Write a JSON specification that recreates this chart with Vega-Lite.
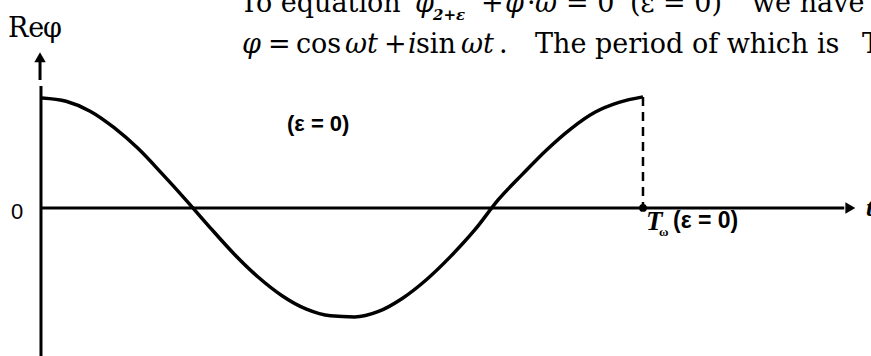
{
  "$schema": "https://vega.github.io/schema/vega-lite/v6.json",
  "autosize": {"type": "none"},
  "width": 871,
  "height": 356,
  "padding": 0,
  "background": "white",
  "config": {"view": {"stroke": null}},
  "datasets": {
    "curve": [
      {"t": 0.00, "v": 1.00}, {"t": 0.04, "v": 0.97}, {"t": 0.08, "v": 0.88},
      {"t": 0.12, "v": 0.73}, {"t": 0.16, "v": 0.54}, {"t": 0.20, "v": 0.31},
      {"t": 0.24, "v": 0.07}, {"t": 0.28, "v": -0.18}, {"t": 0.32, "v": -0.42},
      {"t": 0.36, "v": -0.63}, {"t": 0.40, "v": -0.80}, {"t": 0.44, "v": -0.92},
      {"t": 0.48, "v": -0.98}, {"t": 0.52, "v": -0.99}, {"t": 0.56, "v": -0.94},
      {"t": 0.60, "v": -0.82}, {"t": 0.64, "v": -0.65}, {"t": 0.68, "v": -0.44},
      {"t": 0.72, "v": -0.20}, {"t": 0.76, "v": 0.08}, {"t": 0.80, "v": 0.31},
      {"t": 0.84, "v": 0.53}, {"t": 0.88, "v": 0.72}, {"t": 0.92, "v": 0.87},
      {"t": 0.96, "v": 0.96}, {"t": 1.00, "v": 1.01}
    ],
    "axes": [
      {"t": -0.0017, "t2": 1.335, "v": 0, "v2": 0},
      {"t": -0.0017, "t2": -0.0017, "v": 1.109, "v2": -1.36},
      {"t": -0.0033, "t2": -0.0033, "v": 1.1636, "v2": 1.33}
    ],
    "heads": [
      {"t": 1.345, "v": 0, "shape": "triangle-right"},
      {"t": -0.0033, "v": 1.37, "shape": "triangle-up"}
    ],
    "period": [{"t": 1.0, "t2": 1.0, "v": 1.01, "v2": 0.03}],
    "periodDot": [{"t": 1.0, "v": 0}],
    "serifText": [
      {"t": 0.3295, "v": 1.7818, "label": "To equation"},
      {"t": 0.7304, "v": 1.7818, "label": "+"},
      {"t": 0.8070, "v": 1.7818, "label": "·"},
      {"t": 0.8719, "v": 1.7818, "label": "= 0"},
      {"t": 0.9784, "v": 1.7818, "label": "(ε = 0)"},
      {"t": 1.1814, "v": 1.7818, "label": "we have"},
      {"t": 0.3760, "v": 1.4091, "label": "="},
      {"t": 0.4226, "v": 1.4091, "label": "cos"},
      {"t": 0.5691, "v": 1.4091, "label": "+"},
      {"t": 0.6223, "v": 1.4091, "label": "sin"},
      {"t": 0.7604, "v": 1.4091, "label": "."},
      {"t": 0.8203, "v": 1.4091, "label": "The period of which is"},
      {"t": 1.3644, "v": 1.4091, "label": "T"}
    ],
    "italicText": [
      {"t": 0.6206, "v": 1.7818, "label": "φ"},
      {"t": 0.7704, "v": 1.7818, "label": "φ"},
      {"t": 0.8203, "v": 1.7818, "label": "ω"},
      {"t": 0.3328, "v": 1.4091, "label": "φ"},
      {"t": 0.5042, "v": 1.4091, "label": "ωt"},
      {"t": 0.6090, "v": 1.4091, "label": "i"},
      {"t": 0.6972, "v": 1.4091, "label": "ωt"}
    ],
    "subText": [{"t": 0.6506, "v": 1.7091, "label": "2+ε"}],
    "axisName": [
      {"t": -0.0566, "v": 1.5545, "label": "Re", "style": "normal"},
      {"t": 0.0017, "v": 1.5545, "label": "φ", "style": "italic"}
    ],
    "zeroLabel": [{"t": -0.0416, "v": -0.036, "label": "0"}],
    "epsInner": [{"t": 0.4077, "v": 0.7636, "label": "(ε = 0)"}],
    "epsPeriod": [{"t": 1.0499, "v": -0.118, "label": "(ε = 0)"}],
    "periodT": [{"t": 1.0050, "v": -0.1273, "label": "T"}],
    "periodSub": [{"t": 1.0266, "v": -0.218, "label": "ω"}],
    "tLabel": [{"t": 1.371, "v": 0, "label": "t"}]
  },
  "encoding": {
    "x": {"field": "t", "type": "quantitative", "axis": null,
          "scale": {"domain": [-0.0699, 1.3794], "nice": false, "zero": false}},
    "y": {"field": "v", "type": "quantitative", "axis": null,
          "scale": {"domain": [-1.3455, 1.8909], "nice": false, "zero": false}}
  },
  "layer": [
    {
      "data": {"name": "axes"},
      "mark": {"type": "rule", "color": "black", "strokeWidth": 3},
      "encoding": {"x2": {"field": "t2"}, "y2": {"field": "v2"}}
    },
    {
      "data": {"name": "heads"},
      "mark": {"type": "point", "filled": true, "color": "black", "opacity": 1, "size": 130},
      "encoding": {"shape": {"field": "shape", "type": "nominal", "scale": null}}
    },
    {
      "data": {"name": "period"},
      "mark": {"type": "rule", "color": "black", "strokeWidth": 2.5, "strokeDash": [9, 6]},
      "encoding": {"x2": {"field": "t2"}, "y2": {"field": "v2"}}
    },
    {
      "data": {"name": "curve"},
      "mark": {"type": "line", "color": "black", "strokeWidth": 3.5, "interpolate": "monotone"},
      "encoding": {}
    },
    {
      "data": {"name": "periodDot"},
      "mark": {"type": "circle", "color": "black", "opacity": 1, "size": 60},
      "encoding": {}
    },
    {
      "data": {"name": "serifText"},
      "mark": {"type": "text", "font": "DejaVu Serif", "fontSize": 27, "align": "left", "baseline": "alphabetic", "color": "black"},
      "encoding": {"text": {"field": "label"}}
    },
    {
      "data": {"name": "italicText"},
      "mark": {"type": "text", "font": "DejaVu Serif", "fontSize": 27, "fontStyle": "italic", "align": "left", "baseline": "alphabetic", "color": "black"},
      "encoding": {"text": {"field": "label"}}
    },
    {
      "data": {"name": "subText"},
      "mark": {"type": "text", "font": "DejaVu Serif", "fontSize": 15, "fontStyle": "italic", "fontWeight": "bold", "align": "left", "baseline": "alphabetic", "color": "black"},
      "encoding": {"text": {"field": "label"}}
    },
    {
      "data": {"name": "axisName"},
      "mark": {"type": "text", "font": "DejaVu Serif", "fontSize": 27, "align": "left", "baseline": "alphabetic", "color": "black"},
      "encoding": {"text": {"field": "label"}, "fontStyle": {"field": "style", "type": "nominal", "scale": null}}
    },
    {
      "data": {"name": "zeroLabel"},
      "mark": {"type": "text", "font": "Liberation Sans", "fontSize": 22, "align": "center", "baseline": "middle", "color": "black"},
      "encoding": {"text": {"field": "label"}}
    },
    {
      "data": {"name": "epsInner"},
      "mark": {"type": "text", "font": "Liberation Sans", "fontSize": 22, "fontWeight": "bold", "align": "left", "baseline": "middle", "color": "black"},
      "encoding": {"text": {"field": "label"}}
    },
    {
      "data": {"name": "epsPeriod"},
      "mark": {"type": "text", "font": "Liberation Sans", "fontSize": 23, "fontWeight": "bold", "align": "left", "baseline": "middle", "color": "black"},
      "encoding": {"text": {"field": "label"}}
    },
    {
      "data": {"name": "periodT"},
      "mark": {"type": "text", "font": "Liberation Serif", "fontSize": 27, "fontStyle": "italic", "fontWeight": "bold", "align": "left", "baseline": "middle", "color": "black"},
      "encoding": {"text": {"field": "label"}}
    },
    {
      "data": {"name": "periodSub"},
      "mark": {"type": "text", "font": "Liberation Serif", "fontSize": 13, "fontWeight": "bold", "align": "left", "baseline": "middle", "color": "black"},
      "encoding": {"text": {"field": "label"}}
    },
    {
      "data": {"name": "tLabel"},
      "mark": {"type": "text", "font": "Liberation Serif", "fontSize": 26, "fontStyle": "italic", "fontWeight": "bold", "align": "left", "baseline": "middle", "color": "black"},
      "encoding": {"text": {"field": "label"}}
    }
  ]
}
